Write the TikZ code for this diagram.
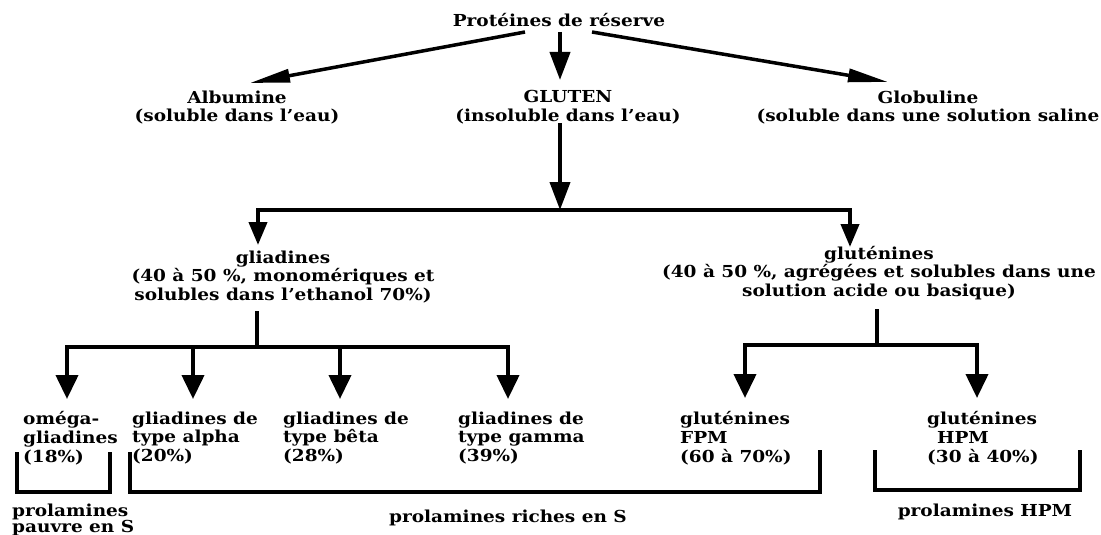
\documentclass[tikz,border=0pt]{standalone}
\usepackage{fontspec}
\setmainfont{DejaVu Serif}[FakeStretch=1.12]
\usetikzlibrary{arrows.meta,calc}

\tikzset{
  lbl/.style={font=\fontsize{16.5}{18.8}\selectfont\bfseries, inner sep=0pt, align=center},
  lbll/.style={lbl, align=left, anchor=west},
  bar/.style={line width=4pt, line cap=rect},
  diag/.style={line width=3.5pt, -{Triangle[length=40pt,width=13pt]}},
  drop/.style={line width=4pt, -{Triangle[length=28pt,width=20pt]}},
  dropsm/.style={line width=4pt, -{Triangle[length=23pt,width=18pt]}},
  dropbig/.style={line width=4pt, -{Triangle[length=24pt,width=22pt]}},
  brace/.style={line width=3.5pt, line join=miter},
}

\begin{document}
\begin{tikzpicture}[x=1pt,y=-1pt]
\useasboundingbox (0,0) rectangle (1101,535);
\clip (0,0) rectangle (1101,535);

% --- top level
\node[lbl] (title) at (559,20) {Protéines de réserve};
\node[lbl] (alb)  at (237,107.5) {Albumine\\(soluble dans l'eau)};
\node[lbl] (glu)  at (568,107.5) {GLUTEN\\(insoluble dans l'eau)};
\node[lbl] (glob) at (928,107.5) {Globuline\\(soluble dans une solution saline};

\draw[diag] ([shift={(-34,12)}]title.center) -- ([shift={(13,-24.5)}]alb.center);
\draw[drop] ([shift={(1,12)}]title.center) -- ([shift={(-8,-27.5)}]glu.center);
\draw[diag] ([shift={(33,12)}]title.center) -- ([shift={(-40,-25.5)}]glob.center);

% --- gluten split
\coordinate (gb) at (560,210);
\coordinate (gl) at (258,210);
\coordinate (gr) at (850,210);
\node[lbl] (glia) at (283,277) {gliadines\\(40 à 50 \%, monomériques et\\solubles dans l'ethanol 70\%)};
\node[lbl] (glut) at (879,273) {gluténines\\(40 à 50 \%, agrégées et solubles dans une\\solution acide ou basique)};

\draw[drop] ([shift={(-8,15.5)}]glu.center) -- (gb);
\draw[bar] (gl) -- (gr);
\draw[dropsm] (gl) -- (258,245);
\draw[dropsm] (gr) -- (850,247);

% --- gliadine fractions
\coordinate (ga) at (257,347);
\coordinate (g1) at (67,347);
\coordinate (g2) at (193,347);
\coordinate (g3) at (340,347);
\coordinate (g4) at (508,347);
\draw[bar] (ga |- glia.south) ++(0,9) -- (ga);
\draw[bar] (g1) -- (g4);

\node[lbll] (omega) at (23,438)  {oméga-\\gliadines\\(18\%)};
\node[lbll] (alpha) at (132,438) {gliadines de\\type alpha\\(20\%)};
\node[lbll] (beta)  at (283,438) {gliadines de\\type bêta\\(28\%)};
\node[lbll] (gamma) at (458,438) {gliadines de\\type gamma\\(39\%)};

\foreach \c in {g1,g2,g3,g4}
  \draw[dropbig] (\c) -- ++(0,52);

% --- glutenine fractions
\coordinate (ta) at (877,345);
\coordinate (t1) at (745,345);
\coordinate (t2) at (977,345);
\draw[bar] (ta |- glut.south) ++(0,11) -- (ta);
\draw[bar] (t1) -- (t2);
\foreach \c in {t1,t2}
  \draw[dropbig] (\c) -- ++(0,53);

\node[lbll] (fpm) at (680,438) {gluténines\\FPM\\(60 à 70\%)};
\node[lbll] (hpm) at (927,438) {gluténines\\\hspace*{0.6em}HPM\\(30 à 40\%)};

% --- groupings
\draw[brace] (17,452) -- (17,492) -- (110,492) -- (110,452);
\draw[brace] (130,452) -- (130,492) -- (820,492) -- (820,450);
\draw[brace] (875,450) -- (875,490) -- (1080,490) -- (1080,450);

\node[lbll, font=\fontsize{16.5}{16.5}\selectfont\bfseries] (pauvre) at (12,520) {prolamines\\pauvre en S};
\node[lbl] (riches) at (508,518) {prolamines riches en S};
\node[lbl] (hpmlab) at (985,512) {prolamines HPM};
\end{tikzpicture}
\end{document}
